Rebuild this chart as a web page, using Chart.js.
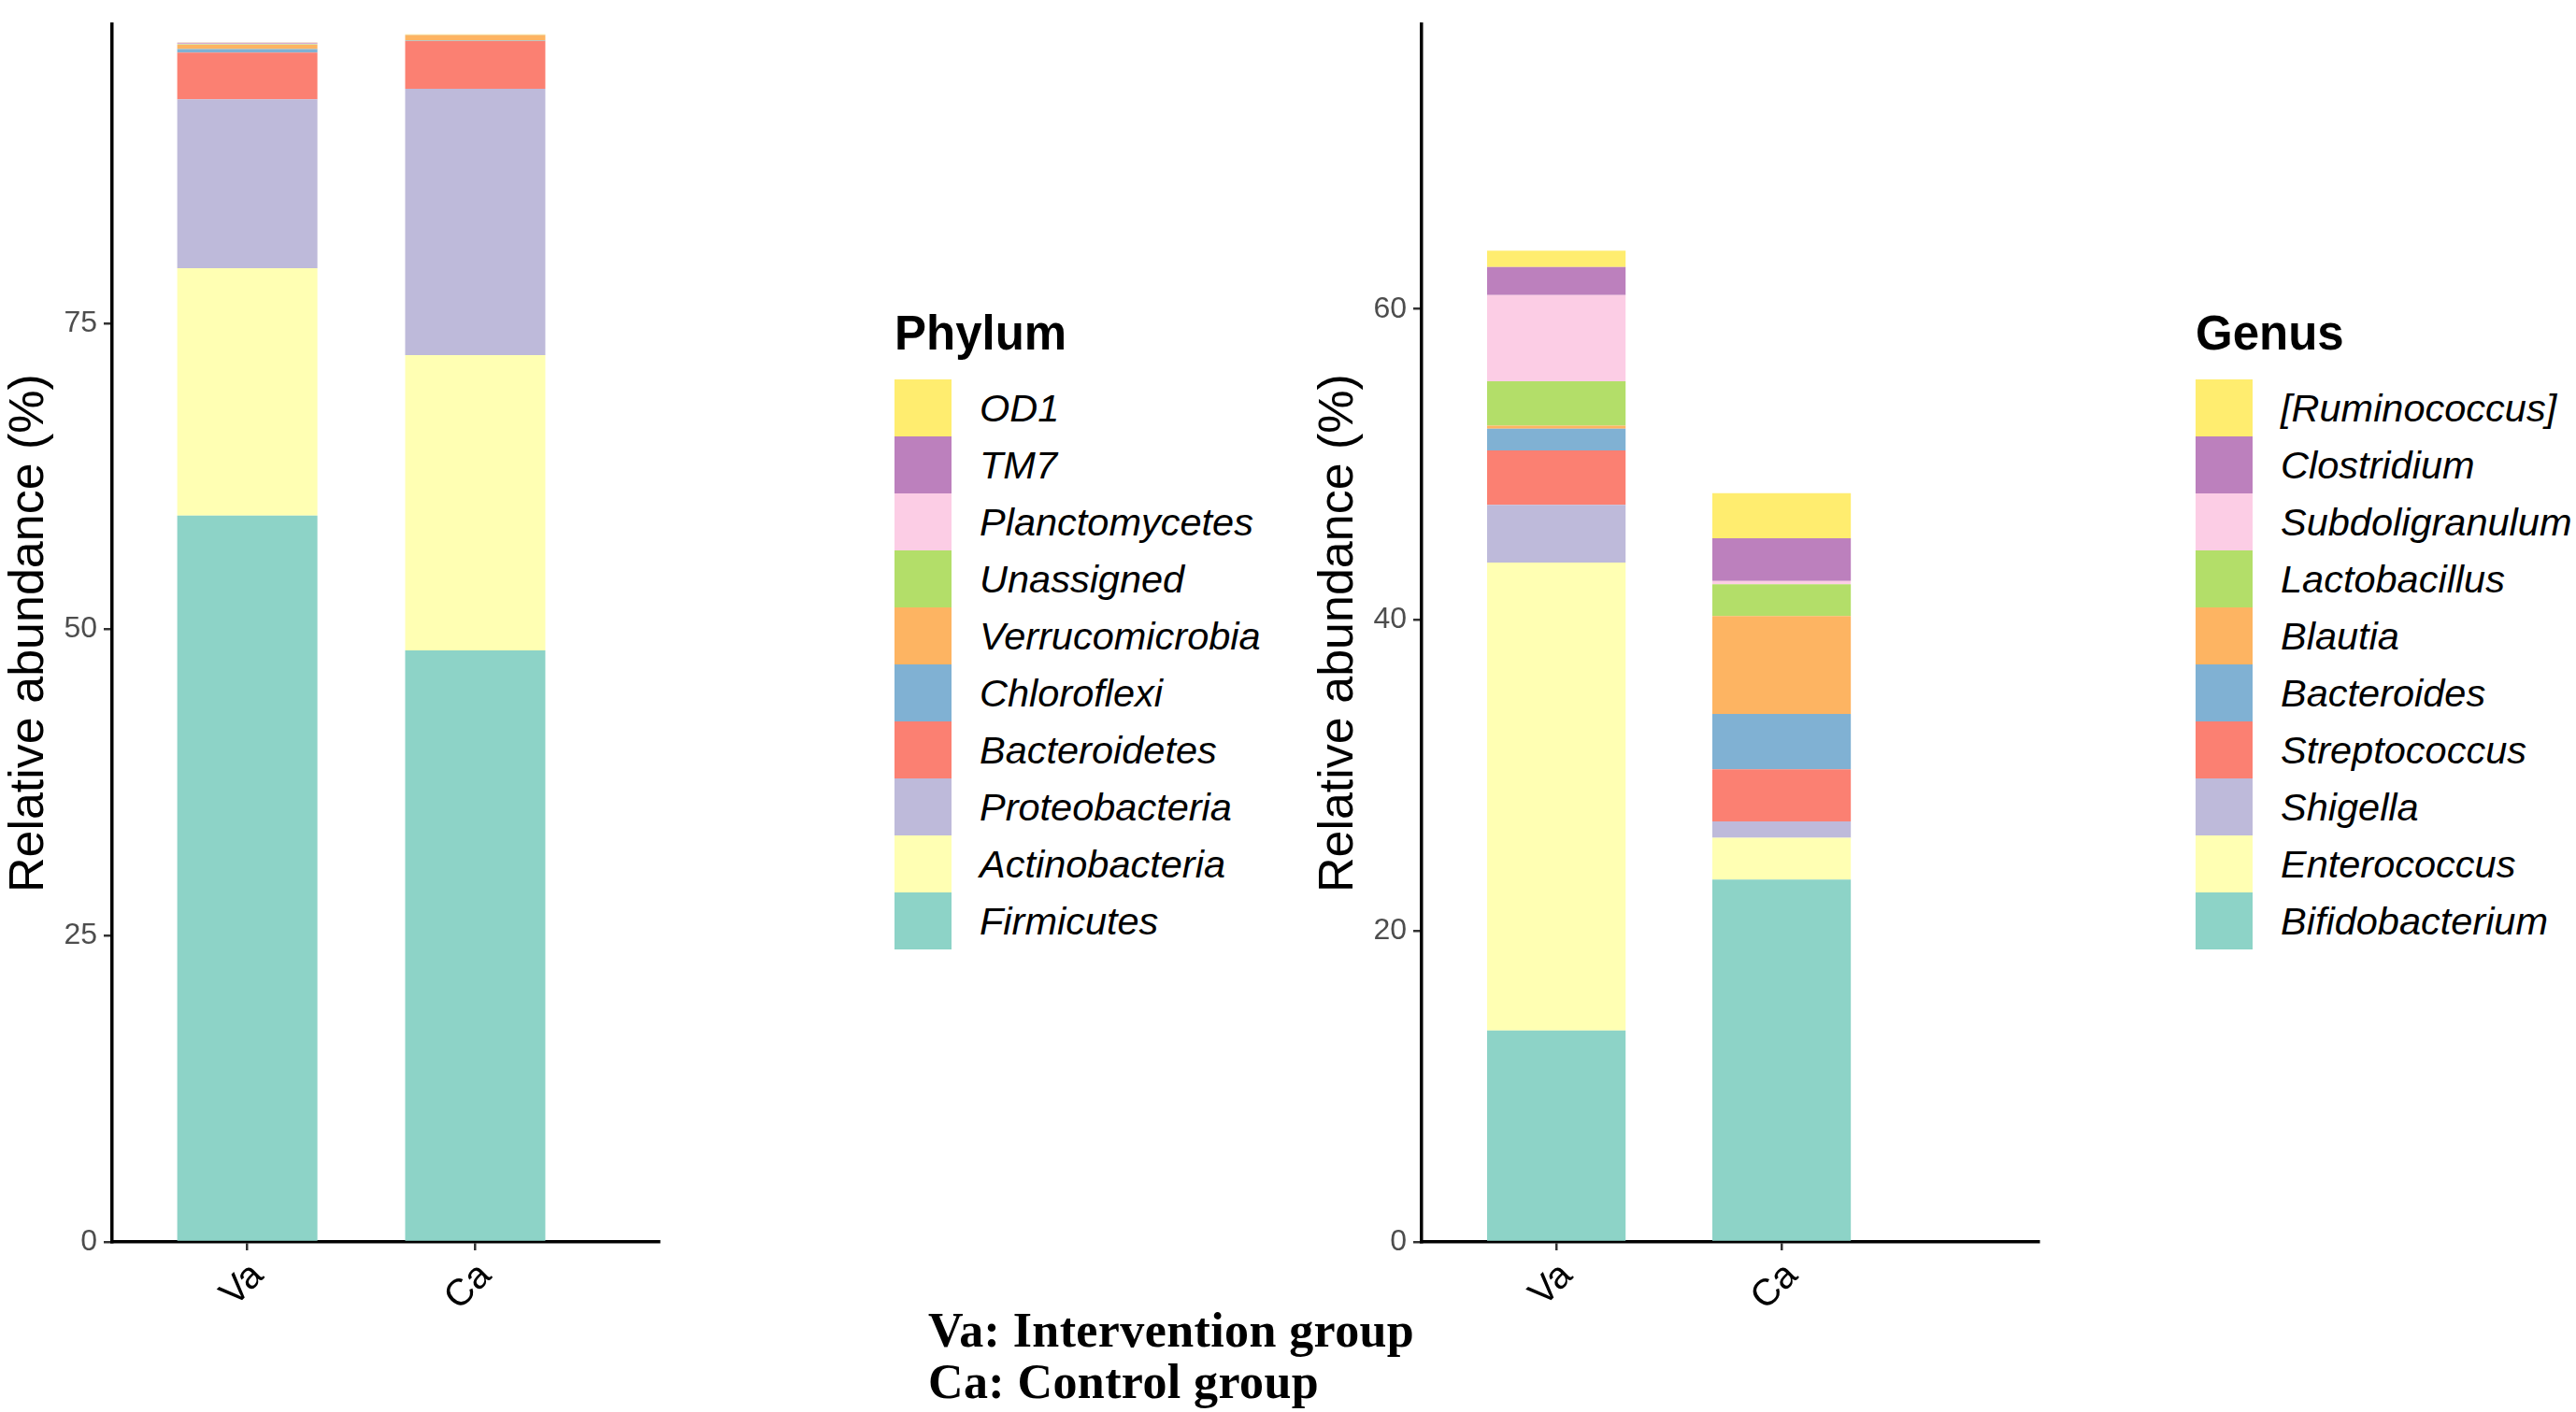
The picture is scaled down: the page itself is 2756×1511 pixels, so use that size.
<!DOCTYPE html>
<html>
<head>
<meta charset="utf-8">
<script src="https://cdn.jsdelivr.net/npm/chart.js@4.4.1/dist/chart.umd.min.js"></script>
<style>
body{margin:0;width:2756px;height:1511px;background:#fff;position:relative;overflow:hidden;font-family:"Liberation Sans",Arial,sans-serif}
canvas{position:absolute;top:0}
.leyenda{position:absolute;top:331px}
.leyenda h3{margin:0;font-size:51px;line-height:51px;font-weight:bold;height:75px;color:#000}
.fila{display:flex;align-items:center;height:61px}
.caja{width:61px;height:61px}
.fila span{margin-left:30px;font-size:41.5px;font-style:italic;white-space:nowrap;color:#000}
.nota{position:absolute;left:993px;top:1396px;font-family:"Liberation Serif","Times New Roman",serif;font-weight:bold;font-size:52px;line-height:55px;letter-spacing:0.4px;color:#000;white-space:nowrap}
</style>
</head>
<body>
<canvas id="filo" width="710" height="1450" style="left:0px;width:710px;height:1450px"></canvas>
<canvas id="genero" width="785" height="1450" style="left:1401px;width:785px;height:1450px"></canvas>
<div class="leyenda" id="leyFilo" style="left:957px"></div>
<div class="leyenda" id="leyGenero" style="left:2349px"></div>
<div class="nota">Va: Intervention group<br>Ca: Control group</div>
<script>
// grupos del eje x
const grupos = ['Va', 'Ca'];
// paleta Set3, en el orden de apilado (de abajo hacia arriba)
const colores = ['#8DD3C7', '#FFFFB3', '#BEBADA', '#FB8072', '#80B1D3', '#FDB462', '#B3DE69', '#FCCDE5', '#BC80BD', '#FFED6F'];

// Phylum (de abajo hacia arriba)
const filos = ['Firmicutes', 'Actinobacteria', 'Proteobacteria', 'Bacteroidetes', 'Chloroflexi', 'Verrucomicrobia', 'Unassigned', 'Planctomycetes', 'TM7', 'OD1'];
const filoVa = [59.3, 20.2, 13.8, 3.8, 0.3, 0.33, 0.05, 0.05, 0.08, 0.02];
const filoCa = [48.3, 24.1, 21.75, 3.9, 0.03, 0.45, 0.02, 0.02, 0.01, 0.01];

// Genus (de abajo hacia arriba)
const generos = ['Bifidobacterium', 'Enterococcus', 'Shigella', 'Streptococcus', 'Bacteroides', 'Blautia', 'Lactobacillus', 'Subdoligranulum', 'Clostridium', '[Ruminococcus]'];
const generoVa = [13.6, 30.1, 3.7, 3.5, 1.4, 0.2, 2.85, 5.55, 1.8, 1.05];
const generoCa = [23.3, 2.7, 1.05, 3.35, 3.55, 6.3, 2.05, 0.2, 2.75, 2.9];

// marcas y limites de los ejes
const filoTicks = [0, 25, 50, 75];
const generoTicks = [0, 20, 40, 60];
const filoMax = 99.4;
const generoMax = 78.3;

Chart.defaults.font.family = '"Liberation Sans", Arial, sans-serif';

//Se crea una grafica de barras apiladas con los valores de cada grupo
function crearGrafica(id, nombres, va, ca, yMax, marcas, xMin, xMax, altoCanvas) {
    const ctx = document.getElementById(id).getContext('2d');
    const datasets = nombres.map(function (n, i) {
        return {
            label: n,
            data: [{x: 1, y: va[i]}, {x: 2, y: ca[i]}],
            backgroundColor: colores[i],
            borderWidth: 0,
            barPercentage: 0.615,
            categoryPercentage: 1
        };
    });
    return new Chart(ctx, {
        type: 'bar',
        data: {datasets: datasets},
        options: {
            responsive: false,
            animation: false,
            devicePixelRatio: 1,
            layout: {autoPadding: false, padding: {top: 15, right: 5, bottom: 0, left: 0}},
            plugins: {legend: {display: false}, tooltip: {enabled: false}},
            scales: {
                x: {
                    type: 'linear',
                    stacked: true,
                    offset: false,
                    min: xMin,
                    max: xMax,
                    afterBuildTicks: function (s) { s.ticks = grupos.map(function (g, i) { return {value: i + 1}; }); },
                    afterFit: function (s) { s.height = altoCanvas - 1329; },
                    border: {display: true, color: '#000', width: 3.5},
                    grid: {offset: false, drawOnChartArea: false, drawTicks: true, tickLength: 9, color: '#333', lineWidth: 2.5},
                    ticks: {
                        autoSkip: false,
                        minRotation: 45,
                        maxRotation: 45,
                        padding: 4,
                        labelOffset: 11,
                        color: '#000',
                        font: {size: 40},
                        callback: function (v) { return grupos[v - 1] || ''; }
                    }
                },
                y: {
                    stacked: true,
                    min: 0,
                    max: yMax,
                    afterBuildTicks: function (s) { s.ticks = marcas.map(function (v) { return {value: v}; }); },
                    afterFit: function (s) { s.width = 120; },
                    border: {display: true, color: '#000', width: 3.5},
                    grid: {drawOnChartArea: false, drawTicks: true, tickLength: 9, color: '#333', lineWidth: 2.5},
                    ticks: {padding: 7, color: '#4D4D4D', font: {size: 32}},
                    title: {display: true, text: 'Relative abundance (%)', color: '#000', font: {size: 52}, padding: 0}
                }
            }
        }
    });
}

//Se arma la leyenda en html con los mismos nombres y colores, de arriba hacia abajo
function crearLeyenda(id, titulo, nombres) {
    const cont = document.getElementById(id);
    let html = '<h3>' + titulo + '</h3>';
    for (let i = nombres.length - 1; i >= 0; i--) {
        html += '<div class="fila"><div class="caja" style="background:' + colores[i] + '"></div><span>' + nombres[i] + '</span></div>';
    }
    cont.innerHTML = html;
}

crearGrafica('filo', filos, filoVa, filoCa, filoMax, filoTicks, 0.407, 2.806, 1450);
crearGrafica('genero', generos, generoVa, generoCa, generoMax, generoTicks, 0.402, 3.141, 1450);
crearLeyenda('leyFilo', 'Phylum', filos);
crearLeyenda('leyGenero', 'Genus', generos);
</script>
</body>
</html>
